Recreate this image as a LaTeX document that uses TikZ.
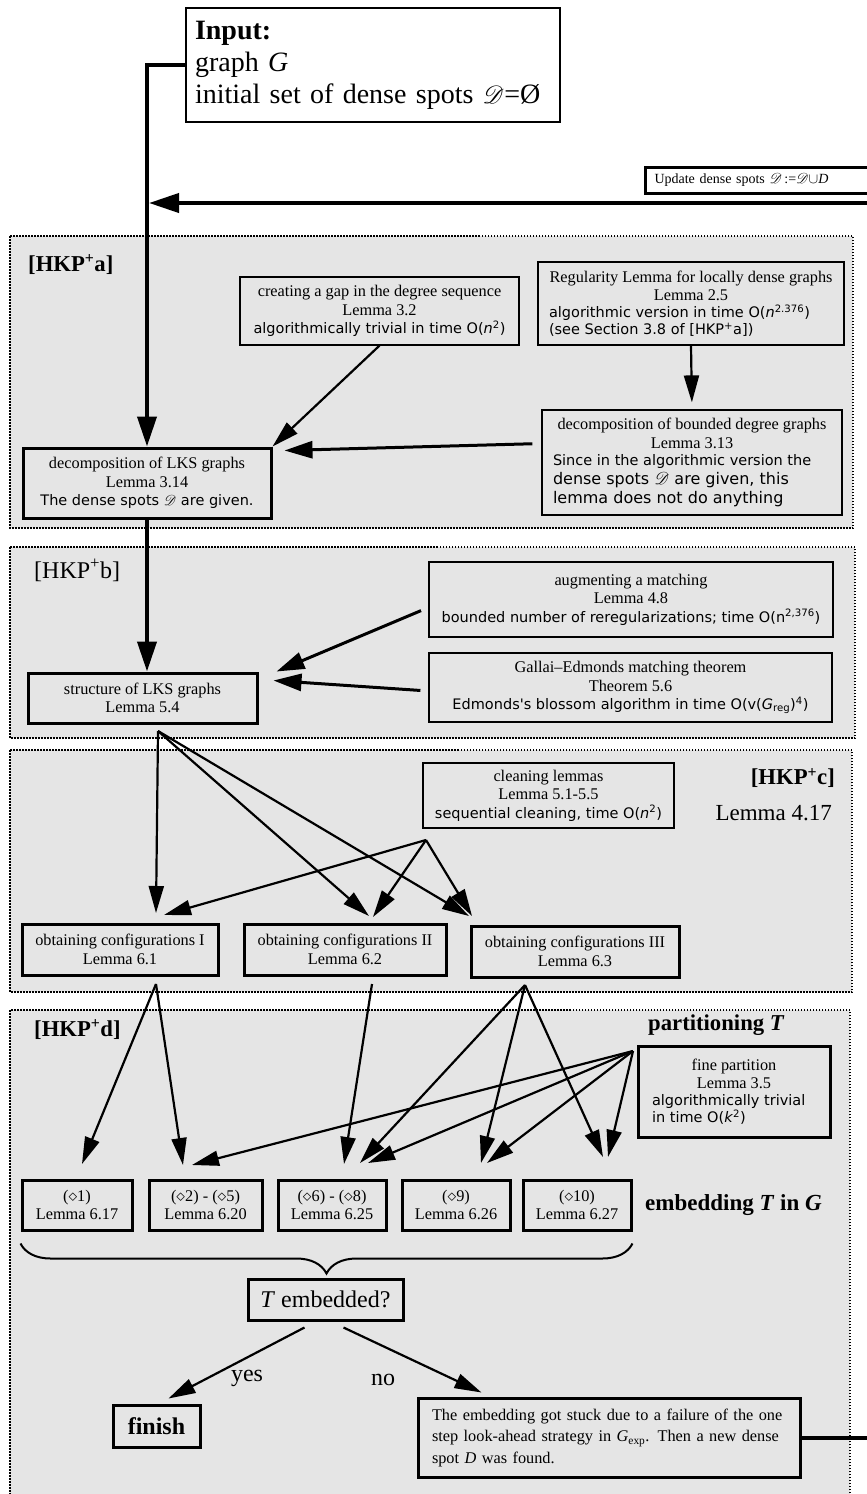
\documentclass[tikz,border=0pt]{standalone}
\usepackage{fontspec}
\setmainfont{Liberation Serif}
\setsansfont{DejaVu Sans}
\usepackage{mathrsfs}
\usetikzlibrary{arrows.meta,decorations.pathreplacing}
\setlength{\parindent}{0pt}
\definecolor{panelgray}{RGB}{229,229,229}
\newcommand{\sanstext}{\fontsize{14.5}{17}\sffamily}
\newcommand{\sansbig}{\fontsize{16}{19}\sffamily}

\begin{document}
\begin{tikzpicture}[x=1pt,y=-1pt,font=\fontsize{16.3}{18.5}\selectfont,
  panel/.style={draw,fill=panelgray,line width=1.5pt,dash pattern=on 1.5pt off 1.5pt},
  thinbox/.style={draw,line width=1.2pt,inner sep=0pt,align=center},
  thickbox/.style={draw,line width=3pt,inner sep=0pt,align=center},
  lbl/.style={inner sep=0pt},
  arr/.style={line width=2.2pt,-{Triangle[length=27pt,width=15pt]}},
  thickarr/.style={line width=3pt,-{Triangle[length=28pt,width=17pt]}},
  mainarr/.style={line width=4pt,-{Triangle[length=30pt,width=19pt]}}]

\useasboundingbox (0,0) rectangle (867,1494);
\clip (0,0) rectangle (867,1494);

\draw[panel] (10,236) rectangle (853,528);
\draw[panel] (10,547) rectangle (855,738);
\draw[panel] (10,750) rectangle (852,992);
\draw[panel] (10,1010) rectangle (850,1520);

\node[lbl,anchor=base west,font=\fontsize{22.7}{24}\selectfont\bfseries] (lbla) at (28,271) {[HKP\textsuperscript{+}a]};
\node[lbl,anchor=base west,font=\fontsize{24}{26}\selectfont] (lblb) at (34,578) {[HKP\textsuperscript{+}b]};
\node[lbl,anchor=east,font=\fontsize{22.7}{24}\selectfont\bfseries] (lblc) at (835,778) {[HKP\textsuperscript{+}c]};
\node[lbl,anchor=east,font=\fontsize{23}{25}\selectfont] (lem417) at (832,813) {Lemma 4.17};
\node[lbl,anchor=base west,font=\fontsize{22.7}{24}\selectfont\bfseries] (lbld) at (34,1036) {[HKP\textsuperscript{+}d]};
\node[lbl,anchor=west,font=\fontsize{22.7}{24}\selectfont] (partT) at (648,1025) {\textbf{partitioning \textit{T}}};
\node[lbl,anchor=west,font=\fontsize{23}{25}\selectfont] (embT) at (645,1205) {\textbf{embedding \textit{T} in \textit{G}}};

\node[draw,fill=white,line width=1.2pt,minimum width=374pt,minimum height=114pt,text width=356pt,inner xsep=9pt,inner ysep=4pt,align=left,font=\fontsize{28}{32}\selectfont] (input) at (373,65) {\textbf{Input:}\\ graph \textit{G}\\ initial set of dense spots $\mathscr{D}$=Ø};
\node[draw,fill=white,line width=3pt,minimum height=26pt,text width=222pt,inner xsep=9pt,inner ysep=0pt,align=left,anchor=west,font=\fontsize{14}{16}\selectfont] (upd) at (644,180) {Update dense spots $\mathscr{D}$\,:=$\mathscr{D}\cup$\textit{D}};

\node[thinbox,minimum width=279pt,minimum height=68pt] (gap) at (379.5,311) {creating a gap in the degree sequence\\ Lemma 3.2\\ {\sanstext algorithmically trivial in time O(\textit{n}\textsuperscript{2})}};
\node[thinbox,align=none,minimum width=306pt,minimum height=83pt,text width=284pt] (reg) at (691,303.5) {{\centering Regularity Lemma for locally dense graphs\\ Lemma 2.5\par}{\sanstext algorithmic version in time O(\textit{n}\textsuperscript{2.376})\\ (see Section 3.8 of [HKP\textsuperscript{+}a])\par}};
\node[thinbox,align=none,minimum width=300pt,minimum height=105pt,text width=278pt] (bnd) at (692,462.5) {{\centering decomposition of bounded degree graphs\\ Lemma 3.13\par}{\sanstext Since in the algorithmic version the\par}{\sansbig dense spots $\mathscr{D}$ are given, this\\ lemma does not do anything\par}};
\node[thickbox,minimum width=248pt,minimum height=70pt] (lks) at (147,483) {decomposition of LKS graphs\\ Lemma 3.14\\ {\sanstext The dense spots $\mathscr{D}$ are given.}};

\node[thinbox,minimum width=404pt,minimum height=75pt] (aug) at (631,599.5) {augmenting a matching\\ Lemma 4.8\\ {\sanstext bounded number of reregularizations; time O(n\textsuperscript{2,376})}};
\node[thinbox,minimum width=403pt,minimum height=69pt] (gal) at (630.5,687.5) {Gallai--Edmonds matching theorem\\ Theorem 5.6\\ {\sanstext Edmonds\textquotesingle s blossom algorithm in time O(v(\textit{G}\textsubscript{reg})\textsuperscript{4})}};
\node[thickbox,minimum width=229pt,minimum height=50pt] (str) at (142.5,698) {structure of LKS graphs\\ Lemma 5.4};

\node[thinbox,minimum width=251pt,minimum height=65pt] (cln) at (548.5,795.5) {cleaning lemmas\\ Lemma 5.1-5.5\\ {\sanstext sequential cleaning, time O(\textit{n}\textsuperscript{2})}};
\node[thickbox,minimum width=196pt,minimum height=51pt] (cfg1) at (120,949.5) {obtaining configurations I\\ Lemma 6.1};
\node[thickbox,minimum width=202pt,minimum height=51pt] (cfg2) at (345,949.5) {obtaining configurations II\\ Lemma 6.2};
\node[thickbox,minimum width=208pt,minimum height=51pt] (cfg3) at (575,951.5) {obtaining configurations III\\ Lemma 6.3};

\node[thickbox,align=none,minimum width=192pt,minimum height=91pt,text width=164pt] (fine) at (734,1091.5) {{\centering fine partition\\ Lemma 3.5\par}{\sanstext algorithmically trivial\\ in time O(\textit{k}\textsuperscript{2})\par}};
\node[thickbox,minimum width=110pt,minimum height=50pt] (r1) at (77,1205) {($\diamond$1)\\ Lemma 6.17};
\node[thickbox,minimum width=113pt,minimum height=50pt] (r2) at (205.5,1205) {($\diamond$2) - ($\diamond$5)\\ Lemma 6.20};
\node[thickbox,minimum width=108pt,minimum height=50pt] (r3) at (332,1205) {($\diamond$6) - ($\diamond$8)\\ Lemma 6.25};
\node[thickbox,minimum width=108pt,minimum height=50pt] (r4) at (456,1205) {($\diamond$9)\\ Lemma 6.26};
\node[thickbox,minimum width=108pt,minimum height=50pt] (r5) at (577,1205) {($\diamond$10)\\ Lemma 6.27};

\node[thickbox,minimum width=155pt,minimum height=41pt,font=\fontsize{24}{26}\selectfont] (temb) at (325.5,1299.5) {\textit{T} embedded?};
\node[thickbox,minimum width=87pt,minimum height=42pt,font=\fontsize{24}{26}\selectfont] (fin) at (156.5,1426) {\textbf{finish}};
\node[thickbox,align=left,minimum width=382pt,minimum height=79pt,text width=354pt,font=\fontsize{16.3}{21.5}\selectfont] (emb) at (609,1437.5) {The embedding got stuck due to a failure of the one\\ step look-ahead strategy in \textit{G}\textsubscript{exp}. Then a new dense\\ spot \textit{D} was found.};
\node[lbl,font=\fontsize{24}{26}\selectfont] (yes) at (247,1378) {yes};
\node[lbl,font=\fontsize{24}{26}\selectfont] (no) at (383,1380) {no};

\draw[line width=2pt,decorate,decoration={brace,amplitude=30pt,mirror}] ([yshift=-12pt]r1.south west) -- ([yshift=-12pt]r5.south east);

\coordinate (back) at (147,203);
\coordinate (ret) at (890,203);
\draw[mainarr] (input.west) -| (lks.north);
\draw[mainarr,shorten >=2pt] (emb.east) -| (ret) -- (back);
\draw[arr] (gap.south) -- (lks.north east);
\draw[arr,shorten >=7pt] (reg.south) -- (bnd.north);
\draw[thickarr,shorten <=9pt] ([yshift=19pt]bnd.west) -- ([xshift=12pt,yshift=-4pt]lks.north east);
\draw[mainarr] (lks.south) -- (lks.south |- str.north);
\draw[thickarr,shorten <=8pt] ([yshift=-8pt]aug.west) -- ([xshift=18pt]str.north east);
\draw[thickarr,shorten <=8pt] ([yshift=-3.5pt]gal.west) -- ([xshift=15pt,yshift=-9pt]str.north east);

\coordinate (sfan) at (158,731);
\coordinate (cfan) at (426,840);
\coordinate (c1a) at (156,913);
\coordinate (c1b) at (164,915);
\coordinate (c2a) at (369,916);
\coordinate (c2b) at (373,917);
\coordinate (c3a) at (469,916);
\coordinate (c3b) at (472,916);
\draw[arr] (sfan) -- (c1a);
\draw[arr] (sfan) -- (c2a);
\draw[arr] (sfan) -- (c3a);
\draw[arr] (cfan) -- (c1b);
\draw[arr] (cfan) -- (c2b);
\draw[arr] (cfan) -- (c3b);

\coordinate (f1) at (156,984);
\coordinate (f2) at (372,984);
\coordinate (f3) at (525,985);
\coordinate (ffan) at (633,1051);
\coordinate (r1a) at (82,1164);
\coordinate (r2a) at (183,1165);
\coordinate (r2b) at (192,1165);
\coordinate (r3a) at (344,1164);
\coordinate (r3b) at (360,1163);
\coordinate (r3c) at (368,1163);
\coordinate (r4a) at (481,1163);
\coordinate (r4b) at (487,1163);
\coordinate (r5a) at (603,1157);
\coordinate (r5b) at (608,1157);
\draw[arr] (f1) -- (r1a);
\draw[arr] (f1) -- (r2a);
\draw[arr] (f2) -- (r3a);
\draw[arr] (f3) -- (r3b);
\draw[arr] (f3) -- (r4a);
\draw[arr] (f3) -- (r5a);
\draw[arr] (ffan) -- (r2b);
\draw[arr] (ffan) -- (r3c);
\draw[arr] (ffan) -- (r4b);
\draw[arr] (ffan) -- (r5b);

\draw[arr] ([xshift=-21pt,yshift=-6pt]temb.south) -- ([xshift=12pt,yshift=5pt]fin.north);
\draw[arr] ([xshift=18pt,yshift=-6pt]temb.south) -- ([xshift=65pt,yshift=4pt]emb.north west);

\end{tikzpicture}
\end{document}
